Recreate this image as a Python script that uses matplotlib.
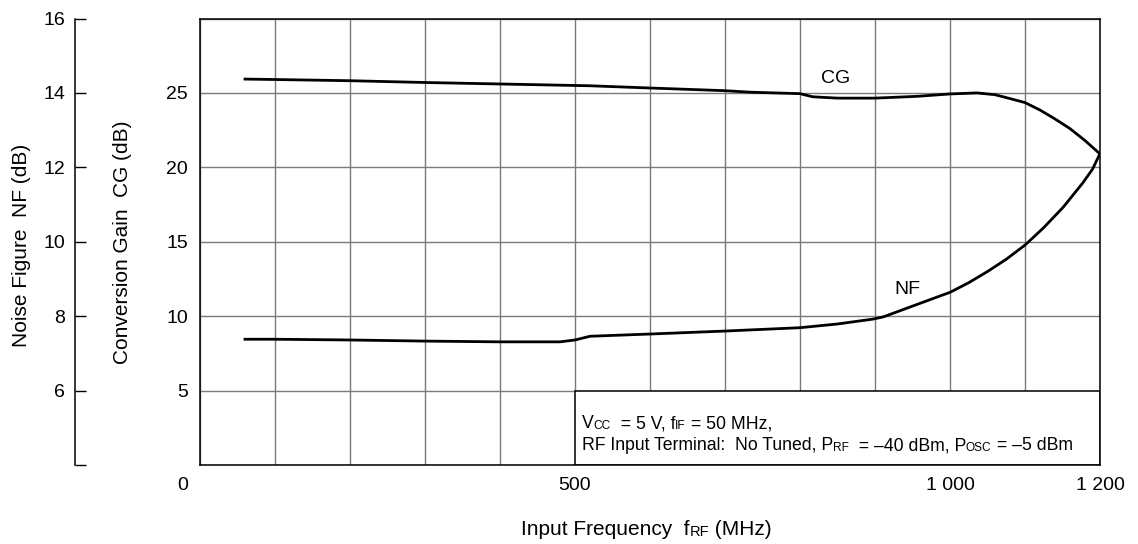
import matplotlib
matplotlib.use('Agg')
import matplotlib.pyplot as plt
import matplotlib.transforms as mtransforms
from matplotlib.patches import Rectangle

plt.rcParams['font.family'] = ['Liberation Sans', 'DejaVu Sans']

# conversion gain CG (dB) vs input frequency (MHz)
cg_freq = [60, 100, 200, 300, 400, 500, 520, 600, 700, 733, 800, 808, 817, 850, 900, 956,
           1000, 1036, 1060, 1080, 1100, 1120, 1140, 1160, 1180, 1200]
cg_db = [25.93, 25.9, 25.82, 25.7, 25.6, 25.5, 25.48, 25.33, 25.15, 25.05, 24.95, 24.85,
         24.74, 24.65, 24.65, 24.77, 24.93, 25.0, 24.88, 24.62, 24.35, 23.85, 23.25, 22.6,
         21.8, 20.9]

# noise figure NF (dB) vs input frequency (MHz)
nf_freq = [60, 100, 200, 300, 400, 480, 500, 520, 600, 700, 800, 850, 897, 911, 950,
           989, 1000, 1025, 1050, 1075, 1100, 1125, 1151, 1177, 1190, 1200]
nf_db = [7.38, 7.38, 7.36, 7.33, 7.31, 7.31, 7.36, 7.46, 7.52, 7.6, 7.69, 7.79, 7.92,
         7.98, 8.27, 8.56, 8.64, 8.9, 9.2, 9.53, 9.91, 10.38, 10.93, 11.58, 11.95, 12.37]

grid_freq = list(range(0, 1201, 100))
freq_labels = {0: '0', 500: '500', 1000: '1 000', 1200: '1 200'}
cg_ticks = [0, 5, 10, 15, 20, 25, 30]
cg_labels = ['', '5', '10', '15', '20', '25', '']
nf_ticks = [4, 6, 8, 10, 12, 14, 16]
nf_labels = ['', '6', '8', '10', '12', '14', '16']

W, H = 1138, 544
fig = plt.figure(figsize=(W / 100, H / 100), dpi=100)
ax = fig.add_axes([200 / W, 1 - 465 / H, 900 / W, 446.5 / H])

ax.set_xlim(0, 1200)
ax.set_ylim(0, 30)
ax.set_xticks(grid_freq, labels=[freq_labels.get(f, '') for f in grid_freq])
ax.set_yticks(cg_ticks, labels=cg_labels)
ax.tick_params(length=0, labelsize=14)
ax.tick_params(axis='x', pad=9)
ax.tick_params(axis='y', pad=8.5)
ax.grid(True, color='#7a7a7a', lw=1.0)
for sp in ax.spines.values():
    sp.set_linewidth(1.1)

# shift the "0" label left, right aligned like the CG labels
lab0 = ax.get_xticklabels()[0]
lab0.set_ha('right')
lab0.set_transform(lab0.get_transform() + mtransforms.ScaledTranslation(-0.12, 0, fig.dpi_scale_trans))

ax.plot(cg_freq, cg_db, color='black', lw=2.0, zorder=3)
ax.text(847, 26.0, 'CG', fontsize=14, ha='center', va='center')

# noise figure axis, spine out to the left
ax2 = ax.twinx()
ax2.set_ylim(4, 16)
ax2.spines['left'].set_position(('axes', -125 / 900))
ax2.spines['left'].set_visible(True)
ax2.spines['left'].set_linewidth(1.1)
for s in ['right', 'top', 'bottom']:
    ax2.spines[s].set_visible(False)
ax2.yaxis.tick_left()
ax2.set_yticks(nf_ticks, labels=nf_labels)
ax2.tick_params(axis='y', direction='in', length=8, width=1.0, pad=7, labelsize=14)
ax2.plot(nf_freq, nf_db, color='black', lw=2.0, zorder=3)
ax2.text(943, 4 + 176 / 37.25, 'NF', fontsize=14, ha='center', va='center')

# condition box
ax.add_patch(Rectangle((500, 0), 700, 5, facecolor='white', edgecolor='black', lw=1.1, zorder=2.5))


def chain(first, pieces):
    t = first
    for s, size in pieces:
        t = ax.annotate(s, xy=(1, 0), xycoords=t, fontsize=size, va='bottom',
                        family=first.get_fontfamily(), annotation_clip=False, zorder=4)
    return t


t1 = ax.text(509, 2.48, 'V', fontsize=12.7, va='baseline', zorder=4)
chain(t1, [('CC', 8.6), ('  = 5 V, f', 12.7), ('IF', 8.6), (' = 50 MHz,', 12.7)])
t2 = ax.text(509, 1.0, 'RF Input Terminal:  No Tuned, P', fontsize=12.7, va='baseline', zorder=4)
chain(t2, [('RF', 8.6), ('  = \u201340 dBm, P', 12.7), ('OSC', 8.6), (' = \u20135 dBm', 12.7)])

# axis titles
tx = fig.text(521 / W, 1 - 535 / H, 'Input Frequency  f', fontsize=15, va='baseline')
chain(tx, [('RF', 10.5), (' (MHz)', 15)])
fig.text(22 / W, 1 - 245 / H, 'Noise Figure  NF (dB)', fontsize=15, rotation=90,
         ha='center', va='center')
fig.text(122 / W, 1 - 242 / H, 'Conversion Gain  CG (dB)', fontsize=15, rotation=90,
         ha='center', va='center')

fig.savefig('out.png', dpi=100)
